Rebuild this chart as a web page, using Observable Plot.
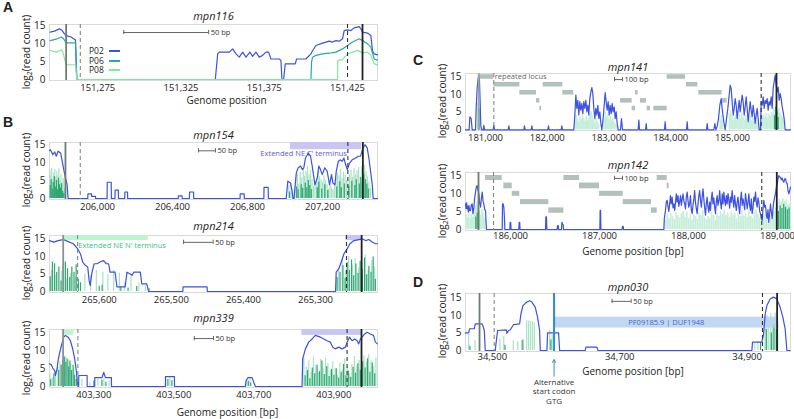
<!DOCTYPE html>
<html><head><meta charset="utf-8">
<script src="https://cdn.jsdelivr.net/npm/d3@7"></script>
<script src="https://cdn.jsdelivr.net/npm/@observablehq/plot@0.6"></script>
<style>
body{margin:0;background:#fff;}
#root{position:relative;width:794px;height:419px;overflow:hidden;font-family:'Open Sans',sans-serif;color:#222;}
.lbl{position:absolute;font-family:'Liberation Sans',Arial,sans-serif;font-weight:bold;font-size:14px;line-height:1;}
.ylab{position:absolute;white-space:nowrap;font-size:10px;transform:translate(-50%,-50%) rotate(-90deg);line-height:1;}
.ylab sub{font-size:7px;vertical-align:-2px;}
.leg{position:absolute;font-size:8.5px;line-height:1;display:flex;align-items:center;}
.leg span.sw{display:inline-block;width:11px;height:1.6px;margin-left:5px;}
</style></head>
<body><div id="root"></div>
<script>
// ---------- colours ----------
const BLUE = "#3d51e3", LIGHTG = "#a8e3c3", DARKG = "#2fa672", PALEG = "#c6eed9";
const C06 = "#27ab9b", C08 = "#7eea9c";

// ---------- Panel A: mpn116 ----------
const a116P02 = [[151246.4,13.15],[151249,13.43],[151252,14.07],[151253.6,13.6],[151255,12.7],[151256,12.2],[151259,11.8],[151261.6,11.0],[151262.4,0],[151345.6,0],[151347,7.1],[151348,7.6],[151354,7.6],[151356,8.5],[151358,7.1],[151360,6.2],[151362,7.6],[151364,6.2],[151366.4,7.6],[151368,6.4],[151370,7.6],[151372,6.2],[151374,6.7],[151376,7.6],[151377.6,7.6],[151379,5.7],[151384,5.7],[151385,5.3],[151385.6,0],[151386.6,0],[151387.6,4.35],[151393.6,4.35],[151394.4,5.7],[151400,5.7],[151403,7.1],[151404,8.0],[151406,9.45],[151410,10.1],[151414,10.65],[151416,10.4],[151418,10.8],[151420,10.65],[151422,11.3],[151423,13.6],[151425,13.8],[151427,13.6],[151429,14.35],[151432,14.7],[151433,14.07],[151434,13.15],[151437,12.9],[151439,12.2],[151440,8.0],[151441,7.1],[151443,6.85]];
const a116P06 = [[151246.4,10.8],[151250,11.2],[151253,11.8],[151254.5,11.3],[151256,10.2],[151261.6,10.2],[151262.4,0],[151403,0],[151403.4,4.8],[151404,6.2],[151406,6.7],[151410,7.1],[151414,7.3],[151418,7.6],[151422,8.5],[151425,9.45],[151428,10.4],[151432,11.3],[151434,10.8],[151437,9.9],[151439,9.0],[151441,5.7],[151443,5.4]];
const a116P08 = [[151246.4,8.05],[151250,7.6],[151253,8.2],[151254,7.6],[151256,4.1],[151261.6,4.1],[151262.4,0],[151419,0],[151419.2,5.3],[151422,5.5],[151425,7.1],[151428,7.6],[151431,8.1],[151434,7.4],[151437,7.6],[151439,6.7],[151441,4.4],[151443,4.0]];
const a116Marks = [151256, 151264.5, 151425, 151434];
const a116Scale = [151290.6, 151341.6, 13.05];
const a116Ticks = [151275, 151325, 151375, 151425];

// ---------- Panel B: mpn154 ----------
const cov154 = [[205744,13.25],[205749,13.5],[205762,12.1],[205772,12.9],[205780,11.7],[205790,13.1],[205803,12.6],[205812,10.3],[205820,8.0],[205829,5.7],[205838,3.8],[205843,0],[205948,0],[205949,1.3],[205968,1.3],[205968.5,0.6],[205989,0.6],[205990,0],[206051,0],[206052,4.5],[206073,4.5],[206074,0],[206093,0],[206094,2.3],[206111,2.3],[206112,0],[206145,0],[206146,1.8],[206160,1.8],[206161,0],[206430,0],[206431,0.7],[206451,0.7],[206452,0],[206490,0],[206491,1.8],[206512,1.8],[206513,0],[206760,0],[206761,1.3],[206782,1.3],[206783,0],[206887,0],[206888,3.1],[206910,3.1],[206911,0],[207006,0],[207015,4.8],[207029,4.3],[207038,2.0],[207042,0],[207048,0],[207052,2.5],[207060,7.1],[207070,8.5],[207083,9.0],[207092,8.0],[207100,8.5],[207109,11.2],[207124,12.6],[207136,11.7],[207145,8.9],[207154,5.7],[207159,3.8],[207172,5.7],[207180,9.0],[207189,8.0],[207198,6.6],[207212,8.5],[207225,7.5],[207237,3.8],[207248,6.6],[207255,4.3],[207266,3.8],[207273,7.5],[207284,10.3],[207296,10.7],[207305,10.3],[207314,11.2],[207323,9.4],[207332,8.0],[207344,9.8],[207358,10.7],[207376,11.2],[207390,11.7],[207403,11.7],[207412,13.5],[207426,14.9],[207438,14.0],[207447,11.2],[207456,7.5],[207465,3.8],[207470,0],[207493,0]];
const light154 = [[205746,7.8],[205751,6.2],[205756,8.3],[205762,5.4],[205767,7.0],[205772,8.0],[205778,5.8],[205783,7.4],[205789,6.1],[205794,8.2],[205800,5.0],[205805,6.6],[205811,4.3],[205817,5.5],[205823,3.0],[205828,2.2],[207020,3.5],[207032,4.2],[207050,2.5],[207058,5.5],[207066,6.8],[207074,4.0],[207081,7.2],[207089,5.6],[207097,8.0],[207104,6.2],[207112,7.5],[207120,9.0],[207128,6.5],[207136,7.8],[207144,5.2],[207152,3.4],[207160,4.0],[207168,5.6],[207176,7.4],[207184,6.0],[207192,5.1],[207200,4.4],[207208,6.3],[207216,5.0],[207224,3.8],[207232,2.6],[207240,4.2],[207248,3.0],[207256,2.4],[207264,3.5],[207272,5.8],[207280,7.0],[207288,6.2],[207296,8.0],[207304,5.5],[207312,7.2],[207320,6.4],[207328,5.0],[207336,4.6],[207344,6.6],[207352,7.8],[207360,5.9],[207368,8.2],[207376,6.5],[207384,7.6],[207392,8.5],[207400,6.0],[207408,8.8],[207416,7.0],[207424,9.2],[207432,7.5],[207440,6.0],[207448,4.5],[207456,2.8]];
const dark154 = [[205748,3.6],[205753,5.2],[205759,2.6],[205764,4.4],[205770,6.1],[205775,3.2],[205781,5.0],[205786,2.4],[205792,5.6],[205797,3.8],[205803,2.9],[205808,4.1],[205814,2.0],[205820,1.4],[207024,1.8],[207062,3.2],[207070,2.4],[207086,3.8],[207094,2.8],[207108,4.2],[207116,3.0],[207124,5.0],[207132,3.6],[207140,2.5],[207172,3.0],[207180,4.5],[207196,2.6],[207212,3.8],[207228,2.2],[207276,3.2],[207292,4.6],[207300,3.0],[207316,4.0],[207340,3.4],[207356,4.8],[207372,3.6],[207380,5.2],[207396,4.0],[207404,5.8],[207412,4.4],[207420,6.6],[207428,5.2],[207436,4.0],[207444,2.6]];
const marks154 = [205829, 205908, 207335, 207415];
const ext154 = [[207029, 207410, 13.5, 15.5]];
const scale154 = [206539, 206629, 13.2];
const ticks154 = [206000, 206400, 206800, 207200];

// ---------- Panel B: mpn214 ----------
const cov214 = [[265669,14.5],[265663,14.05],[265657,14.5],[265650,14.8],[265643,14.2],[265636,13.6],[265630,12.2],[265626,10.7],[265623,8.4],[265619,7.4],[265616,7.0],[265614,3.1],[265612.5,1.7],[265610,5.5],[265607,7.9],[265603,7.9],[265599,8.4],[265594,8.8],[265590,7.9],[265587,7.9],[265585,5.5],[265578,5.5],[265575.5,1.3],[265564,1.3],[265561.6,5.5],[265557,5.0],[265554.6,4.6],[265552,5.5],[265543,5.5],[265541,2.2],[265534,2.2],[265531.5,0],[265484,0],[265483.8,1.3],[265450.4,1.3],[265450,0],[265272.2,0],[265271.3,5.5],[265267.6,6.5],[265264.3,8.4],[265260.6,10.7],[265256,12.2],[265252.3,13.6],[265246.7,14.5],[265239.8,14.8],[265235.2,15.0],[265230.5,14.5],[265226,14.8],[265221,14.05],[265216.6,13.6],[265214,13.6]];
const light214 = [[265666,6.0],[265660,4.5],[265652,5.8],[265645,3.6],[265640,5.2],[265633,4.0],[265620,5.0],[265612,4.6],[265604,6.0],[265595,5.5],[265588,4.8],[265580,6.0],[265572,5.2],[265565,2.5],[265556,4.3],[265545,2.4],[265536,1.6],[265268,6.5],[265263,9.2],[265258,6.0],[265254,10.0],[265249,7.5],[265245,9.4],[265240,6.8],[265236,8.0],[265231,10.4],[265227,6.0],[265222,8.8],[265218,7.0]];
const dark214 = [[265668,4.2],[265665,8.4],[265662,7.9],[265659,5.5],[265656,7.0],[265653,3.0],[265650,7.9],[265647,8.4],[265644,6.5],[265641,4.0],[265638,7.0],[265635,5.5],[265632,7.6],[265629,3.5],[265626,2.5],[265600,1.5],[265596,1.8],[265570,1.2],[265560,1.0],[265548,1.4],[265531,0.8],[265270,4.0],[265266,5.5],[265262,7.4],[265259,3.8],[265256,8.2],[265253,6.0],[265250,9.0],[265247,4.5],[265244,7.8],[265241,5.2],[265238,8.6],[265235,6.2],[265232,9.5],[265229,4.8],[265226,7.2],[265223,5.5],[265220,9.8],[265217,3.5]];
const marks214 = [265650, 265630, 265257, 265236];
const extN214 = [[265650, 265532, 14.5, 15.95]];
const extC214 = [[265258, 265236, 14.5, 15.95]];
const scale214 = [265483, 265442, 14.0];
const ticks214 = [265600, 265500, 265400, 265300];

// ---------- Panel B: mpn339 ----------
const cov339 = [[403188.75,6.4],[403193.75,6.1],[403197,5.2],[403202,4.5],[403203.75,3.1],[403208,5.0],[403210.4,7.3],[403213.75,9.2],[403218.75,11.5],[403224.6,13.9],[403228.75,14.4],[403235.4,13.9],[403241.25,12.9],[403247,10.6],[403252,7.8],[403255.4,5.0],[403258,2.2],[403260.4,0],[403262,0],[403262.2,3.1],[403283,3.1],[403283.2,0],[403302,0],[403302.2,2.5],[403320.4,2.5],[403324.6,4.0],[403328.75,2.5],[403343.75,2.5],[403344,0],[403478.75,0],[403479,2.8],[403501.25,2.8],[403501.5,0],[403678.75,0],[403680.4,1.7],[403685.4,2.5],[403695.4,2.5],[403699.6,1.2],[403703.75,0],[403820.4,0],[403822,7.8],[403828.75,10.6],[403837,12.5],[403845.4,13.4],[403853.75,14.4],[403866.25,13.9],[403874.6,13.4],[403883,12.9],[403891.25,12.5],[403897,11.1],[403903.75,10.6],[403912,11.1],[403920.4,10.6],[403928.75,11.1],[403933,12.5],[403938.75,13.9],[403945.4,12.9],[403952,13.4],[403958,12.9],[403962,12.0],[403966.25,13.4],[403970.4,13.9],[403977,14.8],[403983,15.3],[403991,14.8],[403999,14.4],[404003.75,12.5],[404009,12.0]];
const light339 = [[403190,3.5],[403196,2.5],[403204,4.0],[403210,5.5],[403215,7.0],[403220,6.2],[403228,8.5],[403236,7.5],[403242,6.5],[403250,5.0],[403258,2.5],[403270,2.0],[403290,1.0],[403310,2.0],[403325,2.2],[403338,1.5],[403480,2.2],[403490,2.5],[403682,2.0],[403690,2.2],[403825,8.0],[403831,5.5],[403837,7.2],[403843,4.0],[403849,8.3],[403855,6.0],[403861,3.8],[403867,7.6],[403873,5.2],[403879,8.0],[403885,6.4],[403891,4.4],[403897,7.0],[403903,5.0],[403909,3.2],[403915,6.6],[403921,4.6],[403927,7.8],[403933,5.4],[403939,3.6],[403945,6.2],[403951,8.4],[403957,5.8],[403963,7.4],[403969,4.8],[403975,8.6],[403981,6.8],[403987,9.0],[403993,7.2],[403999,5.6],[404005,8.0]];
const dark339 = [[403192,2.0],[403200,3.5],[403212,4.5],[403218,6.0],[403222,7.5],[403226,8.3],[403230,6.8],[403233,7.8],[403237,5.5],[403240,7.2],[403244,4.5],[403248,6.0],[403252,3.2],[403256,2.0],[403300,1.5],[403320,1.8],[403330,1.2],[403485,2.0],[403495,1.6],[403686,1.5],[403692,1.0],[403828,3.0],[403834,4.5],[403840,2.2],[403846,5.2],[403852,3.6],[403858,6.0],[403864,4.2],[403870,7.2],[403876,3.4],[403882,5.6],[403888,2.8],[403894,4.8],[403900,3.2],[403906,5.0],[403912,2.4],[403918,4.0],[403924,6.2],[403930,3.0],[403936,4.4],[403942,2.6],[403948,5.4],[403954,3.8],[403960,6.4],[403966,4.6],[403972,7.0],[403978,5.2],[403984,7.8],[403990,4.0],[403996,6.6],[404002,3.6]];
const marks339 = [403223, 403260, 403933, 403969];
const extN339 = [[403223, 403250, 14.4, 16.06]];
const extC339 = [[403820, 403969, 14.4, 16.06]];
const scale339 = [403551, 403599, 13.5];
const ticks339 = [403300, 403500, 403700, 403900];

// ---------- Panel C: mpn141 ----------
const cov141 = [[180676,0],[180735,0],[180746,3.7],[180768,3.2],[180784,0],[180838,0],[180849,6.1],[180865,11.8],[180881,14.6],[180892,15.8],[180903,13.7],[180913,8.0],[180924,1.3],[180935,0],[180962,0],[180973,1.3],[180984,0],[181124,0],[181135,1.3],[181146,0],[181367,0],[181378,1.1],[181389,0],[181621,0],[181631,1.1],[181642,0],[181739,0],[181750,1.1],[181761,0],[182009,0],[182020,1.1],[182031,0],[182225,0],[182236,1.1],[182247,0],[182430,0],[182447,4.2],[182463,9.9],[182479,6.1],[182495,8.4],[182511,4.2],[182527,8.0],[182544,5.6],[182560,7.5],[182576,4.6],[182592,8.0],[182608,6.1],[182625,8.4],[182641,5.1],[182657,7.0],[182673,4.2],[182689,8.9],[182706,10.8],[182722,12.0],[182738,10.3],[182754,6.1],[182770,3.2],[182787,6.1],[182803,4.2],[182819,7.0],[182835,3.2],[182851,5.1],[182868,1.8],[182884,0],[182905,3.2],[182922,7.0],[182938,10.6],[182954,8.0],[182970,5.6],[182986,8.0],[183003,4.2],[183019,7.0],[183035,4.6],[183051,7.5],[183067,5.1],[183084,6.5],[183100,3.2],[183116,5.1],[183132,1.8],[183148,0],[183186,0],[183202,3.2],[183218,0],[183472,0],[183483,2.75],[183494,0],[183591,0],[183602,1.8],[183612,0],[183899,0],[183909,2.3],[183920,0],[184255,0],[184266,2.3],[184276,0],[184579,0],[184590,1.8],[184600,0],[184697,0],[184714,1.8],[184730,0],[184751,0.9],[184773,3.2],[184795,7.0],[184816,8.9],[184838,5.1],[184859,2.3],[184881,0],[184903,3.2],[184924,6.1],[184946,9.9],[184962,12.7],[184978,11.8],[184994,8.0],[185011,4.2],[185027,6.1],[185043,8.9],[185059,7.0],[185075,3.2],[185091,5.6],[185108,8.4],[185124,5.1],[185140,7.5],[185156,9.9],[185172,8.0],[185189,4.2],[185205,6.5],[185221,9.4],[185237,6.1],[185253,2.3],[185270,5.1],[185286,8.0],[185302,5.6],[185318,3.7],[185334,7.0],[185351,4.6],[185367,1.8],[185383,4.2],[185399,6.1],[185415,3.2],[185432,0],[185453,0],[185464,8.0],[185480,7.0],[185496,9.4],[185513,6.1],[185529,8.4],[185545,7.5],[185561,8.9],[185577,5.6],[185593,8.0],[185610,7.0],[185626,9.4],[185642,6.1],[185658,11.8],[185674,13.7],[185691,15.6],[185707,12.7],[185723,10.8],[185739,12.2],[185755,8.4],[185772,10.3],[185788,8.9],[185804,6.5],[185820,5.1],[185836,3.2],[185853,0],[185939,0]];
const light141 = [[180870,3.0],[180880,6.0],[180890,8.0],[180900,5.0],[182450,2.5],[182470,4.0],[182490,3.0],[182510,2.2],[182530,3.6],[182550,2.8],[182570,4.2],[182590,3.2],[182610,2.4],[182630,3.8],[182650,2.6],[182670,3.4],[182690,4.6],[182710,5.2],[182730,4.0],[182750,2.8],[182770,1.8],[182790,3.0],[182810,2.2],[182830,1.6],[182920,3.0],[182940,5.0],[182960,3.6],[182980,4.4],[183000,2.8],[183020,3.8],[183040,2.6],[183060,3.4],[183080,2.2],[183100,1.6],[183120,1.2],[184800,3.0],[184820,4.2],[184840,2.6],[184950,4.6],[184970,5.5],[184990,4.0],[185010,2.6],[185030,3.4],[185050,4.2],[185070,2.8],[185090,3.6],[185110,4.4],[185130,3.0],[185150,4.8],[185170,3.6],[185190,2.8],[185210,4.0],[185230,3.2],[185250,2.2],[185270,3.0],[185290,3.8],[185310,2.6],[185330,3.2],[185350,2.2],[185370,1.6],[185390,2.6],[185410,2.0],[185470,4.5],[185490,3.8],[185510,4.2],[185530,3.6],[185550,4.6],[185570,3.2],[185590,4.4],[185610,3.8],[185630,5.0],[185650,4.6],[185670,6.0],[185690,5.5],[185710,6.2],[185730,5.6],[185750,6.0],[185770,4.8],[185790,4.0],[185810,3.4],[185830,2.4]];
const dark141 = [[180885,7.5],[180895,6.0],[185680,4.0],[185700,6.5],[185720,5.0],[185740,3.5]];
// repeated locus blocks: [start, end, row]
const rep141 = [[180919,181135,1],[181135,181556,2],[181556,181826,3],[181826,181880,4],[181880,181907,5],[181934,182252,2],[182252,182430,3],[183186,183375,4],[183375,183429,5],[183429,183472,3],[183510,183607,4],[183618,183672,5],[183726,183942,5],[183942,184239,1],[184255,184438,2],[184455,184832,3],[184832,184913,4]];
const rows141 = {1:[14.4,15.7],2:[12.2,13.5],3:[9.9,11.2],4:[7.6,8.9],5:[5.4,6.7]};
const marks141 = [180890, 181135, 185464, 185712];
const scale141 = [183089, 183219, 14.3];
const ticks141 = [181000, 182000, 183000, 184000, 185000];

// ---------- Panel C: mpn142 ----------
const cov142 = [[185494,7.1],[185500,5.8],[185507,7.4],[185513,5.7],[185520,6.4],[185526,4.9],[185532,6.7],[185540,5.2],[185551,5.3],[185560,6.9],[185569,7.1],[185578,4.4],[185588,6.0],[185598,9.0],[185607,10.4],[185616,11.8],[185625,12.2],[185635,11.0],[185644,9.9],[185653,7.4],[185663,6.2],[185672,8.6],[185682,10.4],[185691,7.8],[185700,7.1],[185710,5.5],[185719,5.3],[185725,2.0],[185730,0],[185906,0],[185910,7.1],[185917,7.1],[185925,6.2],[185932,3.0],[185936,0],[185992,0],[185996,2.0],[186002,2.0],[186006,0],[186093,0],[186097,2.0],[186103,2.0],[186107,0],[186393,0],[186397,3.5],[186404,3.5],[186408,0],[186524,0],[186528,1.1],[186536,1.1],[186540,0],[186573,0],[186577,2.0],[186584,1.5],[186592,1.2],[186596,0],[187004,0],[187007,5.3],[187012,5.3],[187016,0],[187254,0],[187258,0.9],[187266,0.9],[187270,0],[187723,0],[187728,3.0],[187741,5.3],[187750,7.6],[187760,8.1],[187770,6.2],[187779,5.0],[187790,7.6],[187797,9.4],[187805,7.1],[187816,9.0],[187826,6.0],[187835,7.1],[187845,5.3],[187854,7.6],[187863,9.9],[187872,7.6],[187882,9.4],[187891,6.4],[187900,7.6],[187910,9.4],[187920,6.7],[187929,8.5],[187938,9.9],[187947,8.0],[187957,7.1],[187966,5.7],[187975,9.0],[187985,10.4],[187994,8.1],[188003,6.2],[188013,7.1],[188022,9.4],[188032,5.3],[188041,4.4],[188050,6.7],[188060,8.5],[188069,10.8],[188078,7.6],[188088,5.7],[188097,4.4],[188106,6.9],[188116,9.4],[188125,10.8],[188135,8.0],[188144,6.2],[188153,9.0],[188163,11.3],[188172,8.5],[188181,6.0],[188191,4.0],[188200,7.1],[188209,9.0],[188219,6.2],[188228,4.8],[188238,7.6],[188247,5.3],[188256,8.5],[188266,10.4],[188275,7.1],[188284,8.8],[188294,6.2],[188303,4.4],[188312,7.6],[188322,9.4],[188331,6.7],[188341,8.0],[188350,10.8],[188359,7.6],[188369,5.7],[188378,9.9],[188387,7.1],[188397,10.4],[188406,8.0],[188415,6.7],[188425,9.4],[188434,7.1],[188444,10.0],[188453,8.1],[188462,5.9],[188472,9.0],[188481,7.6],[188490,10.8],[188500,8.0],[188509,6.2],[188518,9.4],[188528,7.1],[188537,5.3],[188547,7.6],[188556,9.0],[188565,6.4],[188575,4.4],[188584,8.1],[188594,10.4],[188603,6.7],[188612,8.5],[188622,7.1],[188631,5.5],[188640,10.0],[188650,8.0],[188659,5.7],[188669,7.6],[188678,9.9],[188687,6.7],[188696,5.3],[188706,8.5],[188715,4.4],[188725,6.0],[188734,9.0],[188743,7.8],[188753,10.4],[188762,7.6],[188771,6.2],[188781,8.8],[188790,7.6],[188800,5.0],[188809,4.4],[188818,3.0],[188828,2.5],[188837,5.7],[188846,8.1],[188856,6.2],[188865,6.7],[188875,4.0],[188884,3.0],[188893,5.5],[188902,2.0],[188912,4.6],[188921,7.1],[188930,5.0],[188940,3.0],[188949,5.7],[188958,7.6],[188968,9.0],[188977,9.9],[188987,11.8],[188996,12.4],[189005,14.1],[189015,15.0],[189024,14.6],[189034,14.5],[189043,13.8],[189052,14.3],[189062,13.5],[189071,13.1],[189080,14.0],[189090,14.1],[189100,13.0],[189109,12.7],[189118,10.8],[189127,9.9],[189137,10.8],[189146,11.8]];
const light142 = [[185500,4.0],[185515,3.2],[185530,4.6],[185545,3.0],[185560,4.2],[185575,3.4],[185590,5.0],[185605,6.4],[185620,7.6],[185635,6.6],[185650,5.0],[185665,4.0],[185680,5.6],[185695,4.2],[185710,3.0],[185912,3.0],[187008,2.0],[187740,2.5],[187760,4.0],[187780,3.0],[187800,4.5],[187820,3.6],[187840,2.8],[187860,4.6],[187880,3.8],[187900,3.2],[187920,4.4],[187940,5.0],[187960,3.4],[187980,4.8],[188000,3.0],[188020,4.2],[188040,2.6],[188060,4.0],[188080,3.6],[188100,2.8],[188120,4.6],[188140,3.8],[188160,5.2],[188180,3.4],[188200,2.8],[188220,3.6],[188240,3.0],[188260,4.8],[188280,4.0],[188300,2.6],[188320,4.4],[188340,3.6],[188360,5.0],[188380,4.2],[188400,5.4],[188420,3.8],[188440,4.6],[188460,3.4],[188480,4.8],[188500,4.0],[188520,4.6],[188540,3.0],[188560,4.4],[188580,3.6],[188600,5.0],[188620,3.8],[188640,4.6],[188660,3.4],[188680,5.2],[188700,3.6],[188720,3.0],[188740,4.8],[188760,5.4],[188780,4.2],[188800,3.2],[188820,2.2],[188840,3.6],[188860,4.0],[188880,2.6],[188900,2.2],[188920,3.8],[188940,3.0],[188960,5.0],[188980,6.0],[189000,7.4],[189020,8.4],[189040,7.6],[189060,8.6],[189080,7.8],[189100,8.2],[189120,6.8],[189140,7.0]];
const dark142 = [[185610,3.5],[185625,4.5],[185640,6.0],[189010,5.0],[189030,6.5],[189050,5.8],[189070,7.0],[189090,6.2],[189110,5.5],[189130,6.0]];
const rep142 = [[185719,185907,1],[185925,186019,2],[186019,186104,3],[186112,186430,4],[186430,186599,5],[186599,186775,1],[186775,187000,2],[187000,187266,3],[187266,187584,4],[187584,187648,5],[187648,187761,1],[187761,187783,2]];
const rows142 = {1:[13.6,15.0],2:[11.3,12.9],3:[9.2,10.6],4:[6.9,8.3],5:[4.5,6.0]};
const marks142 = [185640, 185809, 188823, 188992];
const scale142 = [187169, 187258, 14.2];
const ticks142 = [186000, 187000, 188000, 189000];

// ---------- Panel D: mpn030 ----------
const cov030 = [[34457.7,5.0],[34462.9,5.0],[34464.5,6.2],[34471.8,6.2],[34473.4,7.6],[34483.8,7.6],[34485.4,7.0],[34487.5,5.7],[34489.0,0],[34504.7,0],[34505.8,1.9],[34508.4,5.7],[34522.0,5.9],[34523.0,4.9],[34525.6,5.7],[34528.3,5.9],[34533.5,7.4],[34542.9,7.6],[34545.0,10.4],[34548.1,12.8],[34554.4,13.8],[34558.6,14.2],[34562.2,13.8],[34567.5,12.3],[34571.1,9.5],[34574.3,5.7],[34575.3,0],[34585.8,0],[34586.8,5.0],[34604.1,5.0],[34605.7,0],[34645.9,0],[34647.0,0.95],[34664.2,0.95],[34665.8,0],[34907.4,0],[34908.4,2.4],[34923.1,2.4],[34925.7,4.7],[34928.3,10.4],[34930.9,12.8],[34936.1,14.7],[34941.3,15.2],[34946.6,14.7],[34951.8,12.3],[34956.0,9.5],[34959.6,6.2],[34962.3,0],[34967.5,0]];
const light030 = [[34463,4.7],[34473,2.8],[34512,3.3],[34518,4.0],[34533,2.8],[34540,2.6],[34546,2.8],[34554,8.5],[34557,8.4],[34560,8.3],[34563,8.2],[34566,8.0],[34590,5.7],[34594,4.5],[34912,2.0],[34917,2.5],[34928,9.8],[34931,10.0],[34934,8.5],[34937,10.4],[34940,9.0],[34944,10.6],[34948,8.0]];
const dark030 = [[34465,1.2],[34520,1.5],[34548,3.0],[34592,3.0],[34921,2.2],[34930,6.0],[34938,5.0],[34942,7.5],[34946,6.0]];
const marks030 = [34480, 34503, 34924, 34947];
const altStart030 = 34597;
const pfam030 = [[34597, 34949, 6.4, 9.5]];
const scale030 = [34688, 34718, 14.0];
const ticks030 = [34500, 34700, 34900];

// ---------- helpers ----------
const root = document.getElementById("root");
const fmt = d3.format(",");
const X = d => d[0], Y = d => d[1];

function markers(m, leftCol) {
  return [
    Plot.ruleX([m[0]], {stroke: leftCol || "#6e7a74", strokeWidth: 1.8}),
    Plot.ruleX([m[1]], {stroke: "#7f8a84", strokeWidth: 1.1, strokeDasharray: "4,3"}),
    Plot.ruleX([m[2]], {stroke: "#333", strokeWidth: 1.1, strokeDasharray: "4,3"}),
    Plot.ruleX([m[3]], {stroke: "#222", strokeWidth: 1.8})
  ];
}
function scaleBar(s, label) {
  return [
    Plot.ruleY([s], {x1: d => d[0], x2: d => d[1], y: d => d[2], stroke: "#666", strokeWidth: 1}),
    Plot.ruleX([s[0], s[1]], {x: d => d, y1: s[2] - 0.6, y2: s[2] + 0.6, stroke: "#666", strokeWidth: 1}),
    Plot.text([s], {x: d => d[1], y: d => d[2], text: () => label, textAnchor: "start", dx: 2, fontSize: 7.5, fill: "#333"})
  ];
}
function bars(data, color, w) {
  return Plot.ruleX(data, {x: X, y1: 0, y2: Y, stroke: color, strokeWidth: w || 1.2});
}
function cov(data, color) {
  return Plot.line(data, {x: X, y: Y, stroke: color || BLUE, strokeWidth: 1.2});
}
function rects(data, fill, op) {
  return Plot.rect(data, {x1: d => d[0], x2: d => d[1], y1: d => d[2], y2: d => d[3], fill, fillOpacity: op || 1});
}
function repRects(data, rows) {
  return Plot.rect(data, {x1: d => d[0], x2: d => d[1], y1: d => rows[d[2]][0], y2: d => rows[d[2]][1], fill: "#b4c0bc"});
}

function panel(o) {
  const svg = Plot.plot({
    width: o.w, height: o.h,
    marginLeft: o.ml, marginRight: o.mr, marginTop: o.mt, marginBottom: o.mb,
    x: {domain: o.xd}, y: {domain: o.yd},
    style: {fontFamily: "'Open Sans', sans-serif", color: "#222", background: "transparent", overflow: "visible"},
    marks: [
      Plot.frame({stroke: "#dadada"}),
      ...o.marks,
      Plot.axisX(o.xt, {tickFormat: fmt, tickSize: 0, tickPadding: o.tp ?? 4, fontSize: 9.5, label: null}),
      Plot.axisY([0, 5, 10, 15], {tickSize: 0, tickPadding: 4, fontSize: 10, label: null}),
      Plot.text([o.title], {text: d => d, frameAnchor: "top", lineAnchor: "middle", dy: o.tdy, fontStyle: "italic", fontSize: 11}),
      ...(o.xlabel ? [Plot.text([o.xlabel], {text: d => d, frameAnchor: "bottom", lineAnchor: "middle", dy: o.xldy, dx: o.xldx, fontSize: 10})] : [])
    ]
  });
  svg.style.position = "absolute";
  svg.style.left = o.left + "px";
  svg.style.top = o.top + "px";
  root.append(svg);
}
function ylab(cx, cy) {
  const d = document.createElement("div");
  d.className = "ylab";
  d.style.left = cx + "px"; d.style.top = cy + "px";
  d.innerHTML = "log<sub>2</sub>(read count)";
  root.append(d);
}
function letter(t, x, y) {
  const d = document.createElement("div");
  d.className = "lbl"; d.textContent = t;
  d.style.left = x + "px"; d.style.top = y + "px";
  root.append(d);
}

// ---------- A ----------
panel({left: 0, top: 0, w: 392, h: 108, ml: 49, mr: 15, mt: 24, mb: 28,
  xd: [151246, 151443], yd: [-0.28, 15.28], xt: a116Ticks, title: "mpn116", tdy: -8,
  xlabel: "Genome position", xldy: 20, xldx: 13,
  marks: [
    cov(a116P02, BLUE), cov(a116P06, C06), cov(a116P08, C08),
    ...markers(a116Marks),
    ...scaleBar(a116Scale, "50 bp")
  ]});
// legend
[["P02", BLUE, 47], ["P06", C06, 56.5], ["P08", C08, 66]].forEach(([t, c, y]) => {
  const d = document.createElement("div");
  d.className = "leg"; d.style.left = "89px"; d.style.top = y + "px";
  d.innerHTML = `<span>${t}</span><span class="sw" style="background:${c}"></span>`;
  root.append(d);
});

// ---------- B ----------
panel({left: 0, top: 118, w: 392, h: 100, ml: 49, mr: 15, mt: 24, mb: 19,
  xd: [205744, 207493], yd: [-0.28, 15.5], xt: ticks154, title: "mpn154", tdy: -7,
  marks: [
    rects(ext154, "#c9c6f4"),
    bars(light154, LIGHTG), bars(dark154, DARKG),
    cov(cov154),
    ...markers(marks154),
    ...scaleBar(scale154, "50 bp"),
    Plot.text([ext154[0]], {x: d => d[0] + 301, y: 12.3, text: () => "Extended NE C' terminus", textAnchor: "end", fontSize: 7.5, fill: "#5b58e0"})
  ]});
panel({left: 0, top: 212, w: 392, h: 100, ml: 49, mr: 15, mt: 23, mb: 20,
  xd: [265669, 265214], yd: [-0.28, 15.95], xt: ticks214, title: "mpn214", tdy: -9,
  marks: [
    rects(extN214, "#bdf4d4"), rects(extC214, "#c9c6f4"),
    bars(light214, LIGHTG), bars(dark214, DARKG),
    cov(cov214),
    ...markers(marks214, "#8a948f"),
    ...scaleBar(scale214, "50 bp"),
    Plot.text([extN214[0]], {x: d => d[0] - 21, y: 13.0, text: () => "Extended NE N' terminus", textAnchor: "start", fontSize: 7.5, fill: "#3dbd85"})
  ]});
panel({left: 0, top: 306, w: 392, h: 113, ml: 49, mr: 15, mt: 23, mb: 32,
  xd: [403189, 404009], yd: [-0.28, 16.06], xt: ticks339, title: "mpn339", tdy: -11,
  xlabel: "Genome position [bp]", xldy: 25, xldx: 14,
  marks: [
    rects(extN339, "#bdf4d4"), rects(extC339, "#c9c6f4"),
    bars(light339, LIGHTG), bars(dark339, DARKG),
    cov(cov339),
    ...markers(marks339, "#8a948f"),
    ...scaleBar(scale339, "50 bp")
  ]});

// ---------- C ----------
panel({left: 400, top: 50, w: 394, h: 100, ml: 65, mr: 4, mt: 23, mb: 20,
  xd: [180676, 185939], yd: [-0.2, 16.04], xt: ticks141, title: "mpn141", tdy: -6,
  marks: [
    repRects(rep141, rows141),
    bars(light141, PALEG, 1.6), bars(dark141, DARKG),
    cov(cov141),
    ...markers(marks141, "#9aaba1"),
    ...scaleBar(scale141, "100 bp"),
    Plot.text([rep141[0]], {x: d => d[1] + 15, y: 15.05, text: () => "repeated locus", textAnchor: "start", fontSize: 7.5, fill: "#666"})
  ]});
panel({left: 400, top: 150, w: 394, h: 110, ml: 65, mr: 4, mt: 22, mb: 30, tp: 2,
  xd: [185494, 189146], yd: [-0.28, 15.83], xt: ticks142, title: "mpn142", tdy: -7,
  xlabel: "Genome position [bp]", xldy: 21, xldx: 5,
  marks: [
    repRects(rep142, rows142),
    bars(light142, PALEG, 1.6), bars(dark142, DARKG),
    cov(cov142),
    ...markers(marks142, "#6e7a74"),
    ...scaleBar(scale142, "100 bp")
  ]});

// ---------- D ----------
panel({left: 400, top: 270, w: 394, h: 149, ml: 65, mr: 4, mt: 23, mb: 68, tp: 2,
  xd: [34458, 34968], yd: [-0.28, 16.24], xt: ticks030, title: "mpn030", tdy: -6,
  xlabel: "Genome position [bp]", xldy: 20, xldx: 5,
  marks: [
    bars(light030, LIGHTG), bars(dark030, DARKG),
    rects(pfam030, "#b7d0f0", 0.85),
    cov(cov030),
    ...markers(marks030),
    Plot.ruleX([altStart030], {stroke: "#2b8bd6", strokeWidth: 2}),
    Plot.text([pfam030[0]], {x: 34773, y: 7.95, text: () => "PF09185.9 | DUF1948", fontSize: 7.5, fill: "#4468d0"}),
    ...scaleBar(scale030, "50 bp"),
    Plot.arrow([altStart030], {x1: d => d, x2: d => d, y1: -7.3, y2: -2.6, stroke: "#3a8bd6", strokeWidth: 1, headLength: 5}),
    Plot.text([altStart030], {x: d => d, y: -7.8, text: () => "Alternative\nstart codon\nGTG", lineAnchor: "top", fontSize: 8, lineHeight: 1.2, fill: "#333"})
  ]});

// ---------- y labels & panel letters ----------
ylab(27, 52); ylab(27, 170); ylab(27, 263); ylab(27, 358);
ylab(443, 101); ylab(443, 201); ylab(443, 321);
letter("A", 3, 0); letter("B", 3, 115); letter("C", 413, 53); letter("D", 413, 275);
</script></body></html>
